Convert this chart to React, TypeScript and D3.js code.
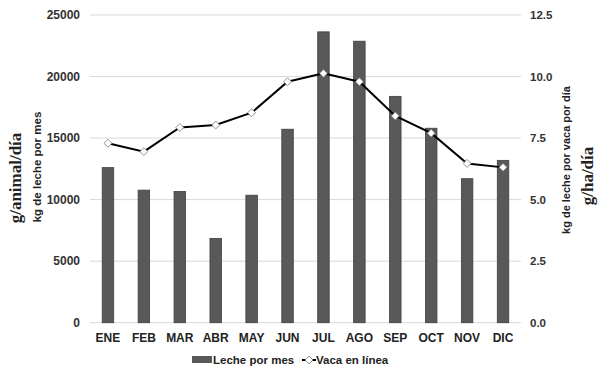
import React, { useRef, useEffect } from 'react';
import * as d3 from 'd3';

const months = ['ENE', 'FEB', 'MAR', 'ABR', 'MAY', 'JUN', 'JUL', 'AGO', 'SEP', 'OCT', 'NOV', 'DIC'];
const lechePorMes = [12600, 10770, 10660, 6850, 10360, 15720, 23630, 22870, 18390, 15800, 11700, 13190];
const vacaEnLinea = [7.29, 6.95, 7.93, 8.03, 8.53, 9.79, 10.13, 9.79, 8.4, 7.7, 6.47, 6.31];
const leftTicks = [0, 5000, 10000, 15000, 20000, 25000];
const rightTicks = [0, 2.5, 5, 7.5, 10, 12.5];

const sans = '"Liberation Sans", Arial, sans-serif';
const serif = '"Liberation Serif", "Times New Roman", serif';

function App() {
  const ref = useRef<SVGSVGElement>(null);

  useEffect(() => {
    if (!ref.current) return;
    const svg = d3.select(ref.current);
    svg.selectAll('*').remove();

    const left = 90;
    const right = 521;
    const top = 15;
    const bottom = 322.7;

    const x = d3.scaleBand().domain(months).range([left, right]).padding(0);
    const y = d3.scaleLinear().domain([0, 25000]).range([bottom, top]);
    const y2 = d3.scaleLinear().domain([0, 12.5]).range([bottom, top]);
    const barW = x.bandwidth() * 0.32;
    const cx = (m: string) => (x(m) as number) + x.bandwidth() / 2;

    // gridlines
    svg
      .append('g')
      .selectAll('line')
      .data(leftTicks)
      .join('line')
      .attr('x1', left)
      .attr('x2', right)
      .attr('y1', (d) => y(d))
      .attr('y2', (d) => y(d))
      .attr('stroke', '#d9d9d9')
      .attr('stroke-width', 1);

    // left ticks
    svg
      .append('g')
      .selectAll('text')
      .data(leftTicks)
      .join('text')
      .attr('x', 80)
      .attr('y', (d) => y(d) + 4)
      .attr('text-anchor', 'end')
      .attr('font-family', sans)
      .attr('font-size', 12)
      .attr('font-weight', 'bold')
      .attr('fill', '#333')
      .text((d) => String(d));

    // right ticks
    svg
      .append('g')
      .selectAll('text')
      .data(rightTicks)
      .join('text')
      .attr('x', 530)
      .attr('y', (d) => y2(d) + 4)
      .attr('font-family', sans)
      .attr('font-size', 11.5)
      .attr('font-weight', 'bold')
      .attr('fill', '#333')
      .text((d) => d.toFixed(1));

    // category labels
    svg
      .append('g')
      .selectAll('text')
      .data(months)
      .join('text')
      .attr('x', (d) => cx(d))
      .attr('y', 342)
      .attr('text-anchor', 'middle')
      .attr('font-family', sans)
      .attr('font-size', 12)
      .attr('font-weight', 'bold')
      .attr('fill', '#222')
      .text((d) => d);

    // bars
    svg
      .append('g')
      .selectAll('rect')
      .data(lechePorMes)
      .join('rect')
      .attr('x', (d, i) => cx(months[i]) - barW / 2)
      .attr('y', (d) => y(d))
      .attr('width', barW)
      .attr('height', (d) => bottom - y(d))
      .attr('fill', '#595959')
      .attr('stroke', '#3f3f3f')
      .attr('stroke-width', 0.8);

    // line
    const line = d3
      .line<number>()
      .x((d, i) => cx(months[i]))
      .y((d) => y2(d));
    svg
      .append('path')
      .datum(vacaEnLinea)
      .attr('fill', 'none')
      .attr('stroke', '#000')
      .attr('stroke-width', 2)
      .attr('d', line);

    const diamond = d3.symbol().type(d3.symbolDiamond2).size(40);
    svg
      .append('g')
      .selectAll('path')
      .data(vacaEnLinea)
      .join('path')
      .attr('transform', (d, i) => `translate(${cx(months[i])},${y2(d)})`)
      .attr('d', diamond)
      .attr('fill', '#fff')
      .attr('stroke', '#777')
      .attr('stroke-width', 0.8);

    // axis titles
    svg
      .append('text')
      .attr('transform', 'translate(41,167) rotate(-90)')
      .attr('text-anchor', 'middle')
      .attr('font-family', sans)
      .attr('font-size', 11.5)
      .attr('font-weight', 'bold')
      .attr('fill', '#222')
      .text('kg de leche por mes');
    svg
      .append('text')
      .attr('transform', 'translate(21,178) rotate(-90)')
      .attr('text-anchor', 'middle')
      .attr('font-family', serif)
      .attr('font-size', 17)
      .attr('font-weight', 'bold')
      .attr('fill', '#222')
      .text('g/animal/día');
    svg
      .append('text')
      .attr('transform', 'translate(570,160) rotate(-90)')
      .attr('text-anchor', 'middle')
      .attr('font-family', sans)
      .attr('font-size', 11)
      .attr('font-weight', 'bold')
      .attr('fill', '#222')
      .text('kg de leche por vaca por día');
    svg
      .append('text')
      .attr('transform', 'translate(593,176) rotate(-90)')
      .attr('text-anchor', 'middle')
      .attr('font-family', serif)
      .attr('font-size', 17)
      .attr('font-weight', 'bold')
      .attr('fill', '#222')
      .text('g/ha/día');

    // legend
    const lg = svg.append('g');
    lg.append('rect')
      .attr('x', 192)
      .attr('y', 356)
      .attr('width', 20)
      .attr('height', 7)
      .attr('fill', '#595959');
    lg.append('text')
      .attr('x', 213)
      .attr('y', 364)
      .attr('font-family', sans)
      .attr('font-size', 11.5)
      .attr('font-weight', 'bold')
      .attr('fill', '#222')
      .text('Leche por mes');
    lg.append('line')
      .attr('x1', 302)
      .attr('x2', 316)
      .attr('y1', 360)
      .attr('y2', 360)
      .attr('stroke', '#000')
      .attr('stroke-width', 2);
    lg.append('path')
      .attr('transform', 'translate(309,360)')
      .attr('d', diamond)
      .attr('fill', '#fff')
      .attr('stroke', '#777')
      .attr('stroke-width', 0.8);
    lg.append('text')
      .attr('x', 316)
      .attr('y', 364)
      .attr('font-family', sans)
      .attr('font-size', 11.5)
      .attr('font-weight', 'bold')
      .attr('fill', '#222')
      .text('Vaca en línea');
  }, []);

  return (
    <svg
      ref={ref}
      width={600}
      height={372}
      style={{ position: 'absolute', left: 0, top: 0, background: '#fff' }}
    />
  );
}

export default App;
